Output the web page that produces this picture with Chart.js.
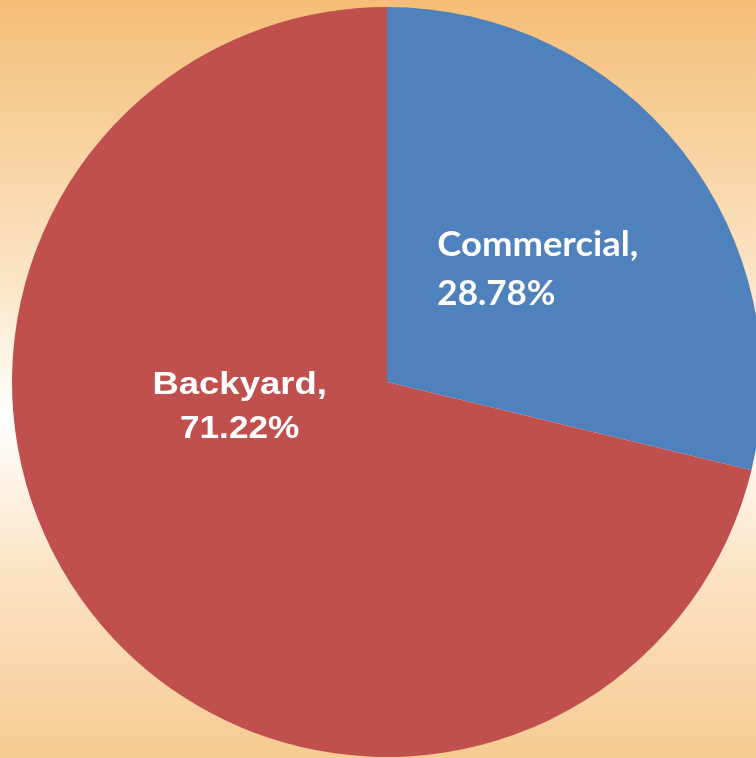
<!DOCTYPE html>
<html>
<head>
<meta charset="utf-8">
<script src="https://cdn.jsdelivr.net/npm/chart.js@4/dist/chart.umd.min.js"></script>
<style>
  html, body { margin: 0; padding: 0; overflow: hidden; width: 756px; height: 758px; }
  body { background: linear-gradient(to bottom, #F5BE77 0%, #FBE6C8 38%, #FFFFFF 55%, #FBE4C6 75%, #F7CB92 100%); }
  #wrap { position: absolute; left: 0; top: 0; width: 768px; height: 758px; }
</style>
</head>
<body>
<div id="wrap"><canvas id="c" width="768" height="758"></canvas></div>
<script>
const categories = ["Commercial", "Backyard"];
const values = [28.78, 71.22];
const colors = ["#4F81BD", "#C0504D"];

const labelPlugin = {
  id: 'sliceLabels',
  afterDatasetsDraw(chart) {
    const ctx = chart.ctx;
    const meta = chart.getDatasetMeta(0);
    meta.data.forEach((arc, i) => {
      const p = arc.tooltipPosition();
      const line1 = categories[i] + ",";
      const line2 = values[i].toFixed(2) + "%";
      ctx.save();
      ctx.fillStyle = "#FFFFFF";
      ctx.textBaseline = "alphabetic";
      if (i === 0) {
        ctx.font = "bold 35px Lato";
        ctx.textAlign = "left";
        const x = p.x - 97;
        ctx.save(); ctx.translate(x, p.y - 10); ctx.scale(1.04, 1); ctx.fillText(line1, 0, 0); ctx.restore();
        ctx.save(); ctx.translate(x, p.y + 39); ctx.scale(1.0, 1); ctx.fillText(line2, 0, 0); ctx.restore();
      } else {
        ctx.font = "bold 32px 'Liberation Sans', Arial";
        ctx.textAlign = "center";
        ctx.save(); ctx.translate(p.x, p.y - 104); ctx.scale(1.14, 1); ctx.fillText(line1, 0, 0); ctx.restore();
        ctx.save(); ctx.translate(p.x, p.y - 60); ctx.scale(1.1, 1); ctx.fillText(line2, 0, 0); ctx.restore();
      }
      ctx.restore();
    });
  }
};

new Chart(document.getElementById('c'), {
  type: 'pie',
  data: {
    labels: categories,
    datasets: [{ data: values, backgroundColor: colors, borderWidth: 0, hoverOffset: 0 }]
  },
  options: {
    responsive: false,
    animation: false,
    layout: { padding: { left: 12, right: 6, top: 6, bottom: 0 } },
    plugins: { legend: { display: false }, tooltip: { enabled: false } }
  },
  plugins: [labelPlugin]
});
</script>
</body>
</html>
